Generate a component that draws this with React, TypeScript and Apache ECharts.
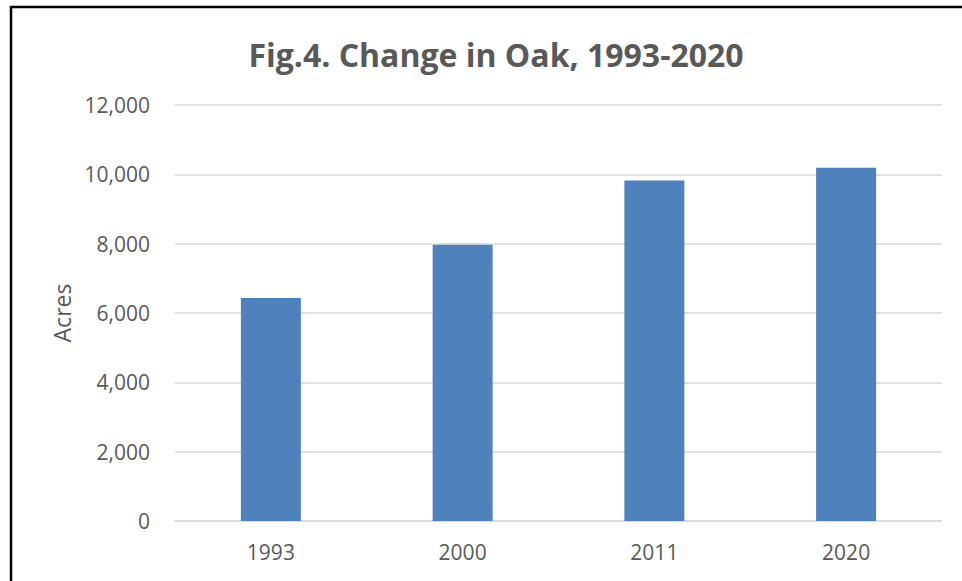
import React, { useEffect, useRef } from "react";
import * as echarts from "echarts";

const categories = ["1993", "2000", "2011", "2020"];
const acres = [6430, 7970, 9820, 10190];
const yTicks = { min: 0, max: 12000, interval: 2000 };
const titleText = "Fig.4. Change in Oak, 1993-2020";
const yName = "Acres";

const FONT = "'Open Sans', sans-serif";
const GREY = "#595959";

export default function App() {
  const ref = useRef<HTMLDivElement>(null);
  useEffect(() => {
    if (!ref.current) return;
    const chart = echarts.init(ref.current, undefined, { renderer: "svg" });
    chart.setOption({
      animation: false,
      backgroundColor: "#ffffff",
      title: {
        text: titleText,
        left: 491,
        textAlign: "center",
        top: 33,
        textStyle: { fontFamily: FONT, fontSize: 32, fontWeight: "bold", color: GREY },
      },
      grid: { left: 175, right: 20, top: 105, bottom: 60 },
      xAxis: {
        type: "category",
        data: categories,
        axisLine: { lineStyle: { color: "#d9d9d9", width: 1.5 } },
        axisTick: { show: false },
        axisLabel: { fontFamily: FONT, fontSize: 21, color: GREY, margin: 20 },
      },
      yAxis: {
        type: "value",
        min: yTicks.min,
        max: yTicks.max,
        interval: yTicks.interval,
        name: yName,
        nameLocation: "middle",
        nameRotate: 90,
        nameGap: 100,
        nameTextStyle: { fontFamily: FONT, fontSize: 23, color: GREY },
        axisLine: { show: false },
        axisTick: { show: false },
        splitLine: { lineStyle: { color: "#d9d9d9", width: 1.5 } },
        axisLabel: {
          fontFamily: FONT,
          fontSize: 21,
          color: GREY,
          margin: 25,
          formatter: (v: number) => v.toLocaleString("en-US"),
        },
      },
      series: [
        {
          type: "bar",
          data: acres,
          barWidth: 60,
          itemStyle: { color: "#4f81bd" },
        },
      ],
      graphic: [
        {
          type: "polyline",
          shape: { points: [[11, 581], [11, 7], [962, 7]] },
          style: { stroke: "#000000", lineWidth: 2.5, fill: "none" },
          silent: true,
        },
      ],
    });
    return () => chart.dispose();
  }, []);
  return (
    <div
      ref={ref}
      style={{ position: "absolute", left: 0, top: 0, width: 962, height: 581 }}
    />
  );
}
